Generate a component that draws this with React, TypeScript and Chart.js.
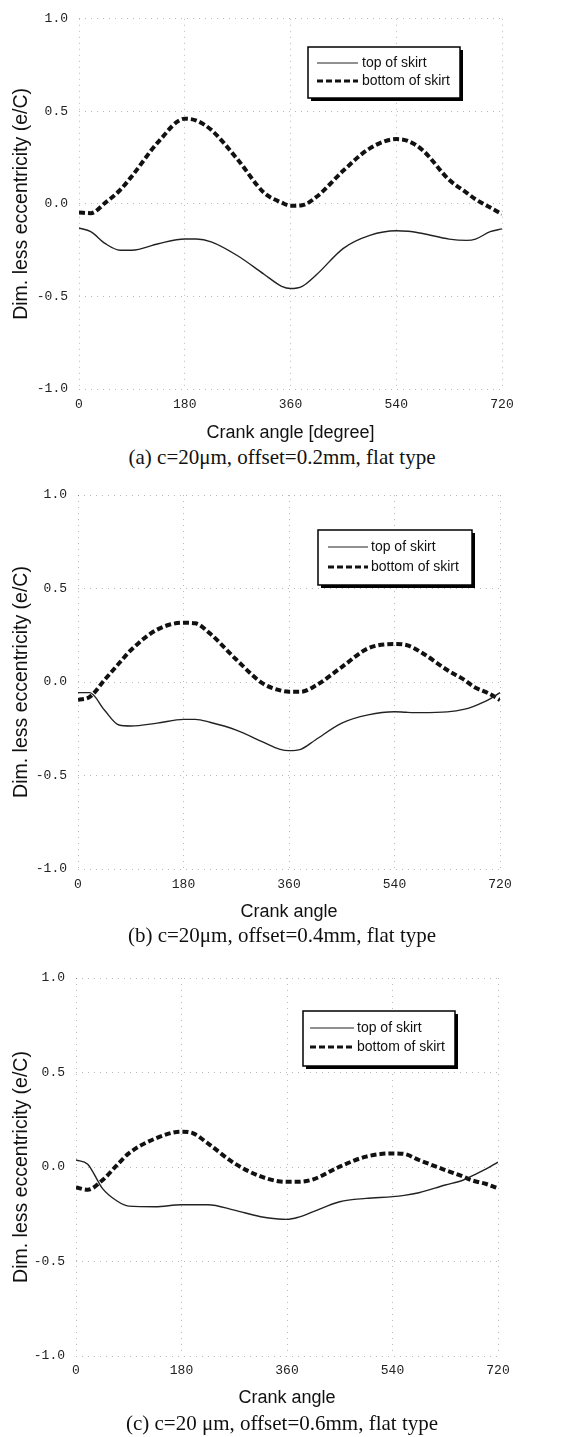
import React, { useEffect, useRef } from "react";
import { Chart, registerables } from "chart.js";

Chart.register(...registerables);

// ---------- data ----------
const crankAngles = [0, 20, 45, 70, 90, 135, 180, 200, 225, 270, 315, 345, 360, 380, 405, 450, 495, 540, 560, 585, 630, 660, 675, 700, 720];

const topA = [-0.13, -0.15, -0.215, -0.25, -0.25, -0.215, -0.19, -0.19, -0.205, -0.28, -0.38, -0.445, -0.457, -0.445, -0.38, -0.24, -0.17, -0.145, -0.148, -0.16, -0.19, -0.197, -0.19, -0.15, -0.135];
const bottomA = [-0.046, -0.05, 0.007, 0.075, 0.15, 0.335, 0.46, 0.45, 0.4, 0.24, 0.06, 0.007, -0.01, -0.007, 0.04, 0.18, 0.3, 0.35, 0.34, 0.29, 0.13, 0.06, 0.025, -0.02, -0.055];

const topB = [-0.057, -0.057, -0.15, -0.23, -0.235, -0.22, -0.2, -0.2, -0.215, -0.257, -0.32, -0.36, -0.367, -0.36, -0.31, -0.22, -0.176, -0.159, -0.162, -0.164, -0.16, -0.145, -0.13, -0.096, -0.057];
const bottomB = [-0.096, -0.08, 0.01, 0.1, 0.17, 0.28, 0.317, 0.314, 0.26, 0.12, -0.007, -0.045, -0.052, -0.052, -0.02, 0.08, 0.18, 0.203, 0.198, 0.16, 0.064, 0.01, -0.025, -0.06, -0.096];

const topC = [0.037, 0.015, -0.113, -0.18, -0.207, -0.21, -0.2, -0.2, -0.2, -0.228, -0.263, -0.275, -0.277, -0.265, -0.236, -0.184, -0.166, -0.157, -0.15, -0.136, -0.095, -0.07, -0.048, -0.01, 0.026];
const bottomC = [-0.108, -0.12, -0.07, 0.01, 0.072, 0.15, 0.187, 0.178, 0.125, 0.02, -0.05, -0.075, -0.078, -0.078, -0.065, 0.002, 0.055, 0.072, 0.069, 0.037, -0.016, -0.05, -0.07, -0.09, -0.113];

const xTickValues = [0, 180, 360, 540, 720];
const yTickValues = [-1, -0.5, 0, 0.5, 1];
const seriesLabels = ["top of skirt", "bottom of skirt"];
const yAxisTitle = "Dim. less eccentricity (e/C)";
const xAxisTitles = ["Crank angle [degree]", "Crank angle", "Crank angle"];
const captions = [
  "(a) c=20\u03bcm, offset=0.2mm, flat type",
  "(b) c=20\u03bcm, offset=0.4mm, flat type",
  "(c) c=20 \u03bcm, offset=0.6mm, flat type",
];

// ---------- layout / style ----------
const W = 587;
const TICK_FONT = 13;
const XTITLE_FONT = 18;
const YTITLE_FONT = 19.5;
const CAPTION_FONT = 21;
const CAPTION_CENTER_X = 282;
const LH = 1.2;

const panels = [
  {
    top: 0, chartTop: 13, chartBottom: 389, chartLeft: 79, chartRight: 502,
    tickY: 405, xTitleY: 433, captionY: 457, yTitleX: 22,
    legend: { x: 308, y: 47, w: 152, h: 51, rows: [63, 81], sx0: 317, sx1: 358, tx: 362 },
    topVals: topA, bottomVals: bottomA, xTitle: xAxisTitles[0], caption: captions[0],
  },
  {
    top: 470, chartTop: 495, chartBottom: 869, chartLeft: 78, chartRight: 500,
    tickY: 885, xTitleY: 912, captionY: 935, yTitleX: 22,
    legend: { x: 318, y: 530, w: 154, h: 55, rows: [547, 567], sx0: 328, sx1: 368, tx: 371 },
    topVals: topB, bottomVals: bottomB, xTitle: xAxisTitles[1], caption: captions[1],
  },
  {
    top: 948, chartTop: 978, chartBottom: 1356, chartLeft: 76, chartRight: 498,
    tickY: 1371, xTitleY: 1398, captionY: 1423, yTitleX: 22,
    legend: { x: 303, y: 1011, w: 152, h: 55, rows: [1028, 1047], sx0: 310, sx1: 354, tx: 357 },
    topVals: topC, bottomVals: bottomC, xTitle: xAxisTitles[2], caption: captions[2],
  },
];

const legendBoxPlugin = {
  id: "legendBox",
  afterDraw(chart: any, _args: any, opts: any) {
    const { ctx } = chart;
    const { x, y, w, h, rows, sx0, sx1, tx } = opts;
    ctx.save();
    ctx.fillStyle = "#000";
    ctx.fillRect(x + 3, y + 3, w, h);
    ctx.fillStyle = "#fff";
    ctx.fillRect(x, y, w, h);
    ctx.lineWidth = 1.5;
    ctx.strokeStyle = "#000";
    ctx.setLineDash([]);
    ctx.strokeRect(x, y, w, h);
    chart.data.datasets.forEach((ds: any, i: number) => {
      const ry = rows[i];
      ctx.beginPath();
      ctx.setLineDash(ds.borderDash || []);
      ctx.lineWidth = i === 0 ? 1.2 : 3;
      ctx.strokeStyle = ds.borderColor;
      ctx.moveTo(sx0, ry);
      ctx.lineTo(sx1, ry);
      ctx.stroke();
      ctx.setLineDash([]);
      ctx.fillStyle = "#111";
      ctx.font = '14px "Liberation Sans", Arial, sans-serif';
      ctx.textBaseline = "middle";
      ctx.textAlign = "left";
      ctx.fillText(ds.label, tx, ry);
    });
    ctx.restore();
  },
};

function Panel({ p }: { p: any }) {
  const ref = useRef<HTMLCanvasElement | null>(null);
  const xTitleLH = XTITLE_FONT * LH;
  const H = Math.ceil(p.xTitleY - p.top + xTitleLH / 2 + 1);

  useEffect(() => {
    if (!ref.current) return;
    const cTop = p.chartTop - p.top;
    const cBottom = p.chartBottom - p.top;
    const xH = H - cBottom;
    const xTitlePadBottom = Math.max(0, cBottom + xH - (p.xTitleY - p.top) - xTitleLH / 2);
    const tickPad = (p.tickY - p.top) - cBottom - (TICK_FONT * LH) / 2;
    const yTitlePadTop = p.yTitleX - (YTITLE_FONT * LH) / 2;
    const lg = p.legend;
    const legendOpts = {
      x: lg.x, y: lg.y - p.top, w: lg.w, h: lg.h,
      rows: lg.rows.map((r: number) => r - p.top),
      sx0: lg.sx0, sx1: lg.sx1, tx: lg.tx,
    };

    const gridColor = "rgba(0,0,0,0.28)";
    const chart = new Chart(ref.current, {
      type: "line",
      data: {
        datasets: [
          {
            label: seriesLabels[0],
            data: crankAngles.map((a, i) => ({ x: a, y: p.topVals[i] })),
            borderColor: "#222",
            borderWidth: 1.4,
            pointRadius: 0,
            tension: 0.4,
            cubicInterpolationMode: "monotone",
            fill: false,
          },
          {
            label: seriesLabels[1],
            data: crankAngles.map((a, i) => ({ x: a, y: p.bottomVals[i] })),
            borderColor: "#111",
            borderWidth: 4,
            borderDash: [6, 3],
            pointRadius: 0,
            tension: 0.4,
            cubicInterpolationMode: "monotone",
            fill: false,
          },
        ],
      } as any,
      options: {
        animation: false,
        responsive: false,
        devicePixelRatio: 1,
        events: [],
        layout: { padding: { top: cTop, left: 0, right: W - p.chartRight, bottom: 0 } },
        plugins: {
          legend: { display: false },
          tooltip: { enabled: false },
          title: { display: false },
          legendBox: legendOpts,
        } as any,
        scales: {
          x: {
            type: "linear",
            min: 0,
            max: 720,
            afterBuildTicks: (s: any) => { s.ticks = xTickValues.map((v) => ({ value: v })); },
            afterFit: (s: any) => { s.height = xH; },
            ticks: {
              padding: tickPad,
              maxRotation: 0,
              autoSkip: false,
              color: "#222",
              font: { family: '"Liberation Mono", "Courier New", monospace', size: TICK_FONT, lineHeight: LH },
              callback: (v: any) => String(v),
            },
            grid: { color: gridColor, lineWidth: 1, drawTicks: false },
            border: { display: false, dash: [1, 5] },
            title: {
              display: true,
              text: p.xTitle,
              color: "#111",
              font: { family: '"Liberation Sans", Arial, sans-serif', size: XTITLE_FONT, lineHeight: LH },
              padding: { top: 0, bottom: xTitlePadBottom },
            },
          },
          y: {
            type: "linear",
            min: -1,
            max: 1,
            afterBuildTicks: (s: any) => { s.ticks = yTickValues.map((v) => ({ value: v })); },
            afterFit: (s: any) => { s.width = p.chartLeft; },
            ticks: {
              padding: 11,
              color: "#222",
              font: { family: '"Liberation Mono", "Courier New", monospace', size: TICK_FONT, lineHeight: LH },
              callback: (v: any) => Number(v).toFixed(1),
            },
            grid: { color: gridColor, lineWidth: 1, drawTicks: false },
            border: { display: false, dash: [1, 5] },
            title: {
              display: true,
              text: yAxisTitle,
              color: "#111",
              font: { family: '"Liberation Sans", Arial, sans-serif', size: YTITLE_FONT, lineHeight: LH },
              padding: { top: yTitlePadTop, bottom: 0 },
            },
          },
        },
      } as any,
      plugins: [legendBoxPlugin as any],
    });
    return () => chart.destroy();
  }, [p]);

  const capLH = 25;
  return (
    <>
      <canvas
        ref={ref}
        width={W}
        height={H}
        style={{ position: "absolute", left: 0, top: p.top, width: W, height: H, display: "block" }}
      />
      <div
        style={{
          position: "absolute",
          left: 0,
          width: CAPTION_CENTER_X * 2,
          top: p.captionY - capLH / 2,
          height: capLH,
          lineHeight: capLH + "px",
          textAlign: "center",
          fontFamily: '"Liberation Serif", "Times New Roman", serif',
          fontSize: CAPTION_FONT,
          color: "#111",
          whiteSpace: "nowrap",
        }}
      >
        {p.caption}
      </div>
    </>
  );
}

export default function App() {
  return (
    <div style={{ position: "absolute", left: 0, top: 0, width: W, height: 1437, background: "#fff", overflow: "hidden" }}>
      {panels.map((p, i) => (
        <Panel key={i} p={p} />
      ))}
    </div>
  );
}
